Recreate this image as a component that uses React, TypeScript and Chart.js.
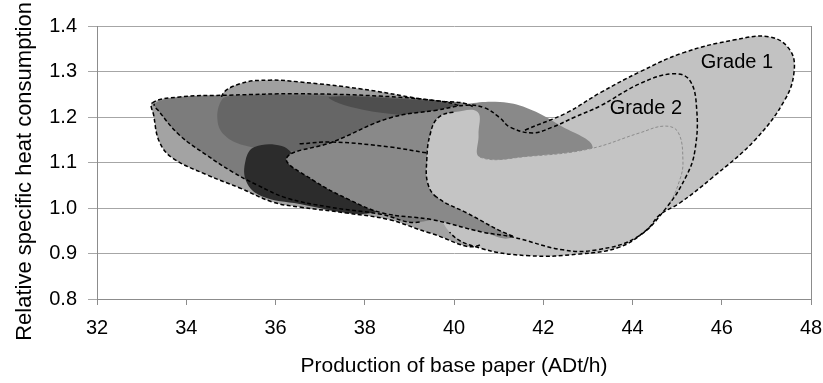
import React, { useEffect, useRef } from 'react';
import { Chart, registerables } from 'chart.js';

Chart.register(...registerables);

// ---------- axis data ----------
const xTickValues = [32, 34, 36, 38, 40, 42, 44, 46, 48];
const yTickValues = [0.8, 0.9, 1.0, 1.1, 1.2, 1.3, 1.4];
const xTitle = 'Production of base paper (ADt/h)';
const yTitle = 'Relative specific heat consumption';

// ---------- labels ----------
const gradeLabels = ['Grade 1', 'Grade 2'];
const gradeLabelX = [46.34, 44.3];
const gradeLabelY = [1.319, 1.218];

// ---------- operating regions (outline points, data units) ----------
const bumpX = [34.79, 35.2, 35.87, 36.54, 37.89, 39.23, 40.13, 40.35, 39.23, 36.54, 35.04];
const bumpY = [1.244, 1.273, 1.281, 1.277, 1.262, 1.24, 1.224, 1.193, 1.171, 1.171, 1.193];

const outerLensX = [33.24, 33.85, 34.97, 36.54, 38.33, 39.68, 40.46, 40.91, 40.8, 40.58, 39.46, 38.56, 37.59, 36.54, 35.94, 35.2, 34.46, 33.69, 33.4, 33.27];
const outerLensY = [1.231, 1.244, 1.248, 1.251, 1.246, 1.235, 1.22, 1.149, 1.018, 0.919, 0.945, 0.974, 0.989, 1.002, 1.013, 1.044, 1.073, 1.11, 1.145, 1.204];

const innerLensX = [33.29, 33.85, 34.97, 36.54, 38.33, 39.68, 40.46, 40.8, 40.35, 39.23, 38.33, 37.21, 36.25, 35.58, 35.04, 34.46, 33.85, 33.4];
const innerLensY = [1.229, 1.244, 1.248, 1.251, 1.246, 1.235, 1.22, 1.149, 1.018, 0.969, 0.987, 1.002, 1.022, 1.051, 1.079, 1.116, 1.16, 1.211];

const darkCoreX = [34.7, 34.79, 35.02, 36.54, 38.33, 39.68, 40.46, 40.13, 39.23, 38.33, 37.21, 36.09, 35.29, 34.86];
const darkCoreY = [1.193, 1.237, 1.246, 1.248, 1.244, 1.233, 1.215, 1.16, 1.138, 1.127, 1.121, 1.127, 1.138, 1.16];

const darkBandX = [37.21, 38.78, 39.9, 40.46, 39.68, 38.56, 37.55];
const darkBandY = [1.244, 1.24, 1.229, 1.211, 1.198, 1.207, 1.226];

const blackWedgeX = [35.53, 36.14, 36.54, 37.44, 38.33, 37.89, 36.54, 35.69, 35.35, 35.33];
const blackWedgeY = [1.134, 1.136, 1.105, 1.048, 1.0, 0.987, 1.009, 1.026, 1.057, 1.105];

const grade1X = [40.35, 40.91, 41.59, 42.52, 43.27, 44.16, 45.13, 46.26, 47.08, 47.53, 47.62, 47.41, 46.74, 45.78, 45.06, 44.61, 44.32, 43.71, 42.82, 41.7, 40.58, 39.9, 39.68];
const grade1Y = [1.094, 1.138, 1.171, 1.209, 1.253, 1.299, 1.341, 1.369, 1.376, 1.347, 1.299, 1.237, 1.149, 1.066, 1.011, 0.985, 0.952, 0.914, 0.899, 0.895, 0.912, 0.947, 1.018];

const midWedgeX = [36.25, 37.28, 38.56, 39.61, 40.29, 41.03, 41.63, 42.37, 43.11, 42.37, 41.32, 40.64, 39.52, 38.4, 37.66, 36.83];
const midWedgeY = [1.11, 1.145, 1.198, 1.215, 1.229, 1.233, 1.22, 1.182, 1.132, 1.073, 0.938, 0.947, 0.974, 0.989, 1.018, 1.062];

const lightX = [39.61, 39.41, 39.39, 39.46, 39.64, 40.02, 40.53, 40.55, 40.58, 41.7, 43.04, 44.16, 44.72, 45.02, 45.13, 45.06, 44.77, 44.1, 43.2, 42.44, 41.32, 40.29];
const lightY = [1.024, 1.055, 1.105, 1.16, 1.198, 1.211, 1.211, 1.16, 1.112, 1.114, 1.13, 1.165, 1.18, 1.167, 1.105, 1.062, 1.002, 0.936, 0.908, 0.908, 0.938, 0.989];

const grade2X = [36.25, 37.28, 38.56, 39.61, 40.29, 40.69, 41.03, 41.25, 41.76, 42.21, 42.71, 43.27, 44.16, 44.9, 45.28, 45.44, 45.4, 45.22, 44.77, 44.1, 43.2, 42.44, 41.32, 40.64, 39.52, 38.4, 37.66, 36.83];
const grade2Y = [1.11, 1.145, 1.198, 1.215, 1.226, 1.22, 1.198, 1.178, 1.165, 1.178, 1.2, 1.224, 1.273, 1.295, 1.281, 1.215, 1.127, 1.073, 1.002, 0.936, 0.908, 0.908, 0.936, 0.947, 0.974, 0.989, 1.018, 1.062];

const splitLineX = [36.54, 37.28, 38.56, 39.39];
const splitLineY = [1.141, 1.145, 1.134, 1.121];

// ---------- styling helpers ----------
const FONT = '"Liberation Sans", Arial, Helvetica, sans-serif';
const CLEAR = 'rgba(0,0,0,0)';
const DASH = [4, 2.5];
const TENSION = 0.4;

function pts(xs: number[], ys: number[]) {
  return xs.map((x, i) => ({ x, y: ys[i] }));
}

function fillSet(xs: number[], ys: number[], color: string, order: number) {
  return {
    type: 'line',
    data: pts(xs, ys),
    closedShape: true,
    fill: 'shape',
    backgroundColor: color,
    borderColor: CLEAR,
    borderWidth: 0,
    pointRadius: 0,
    pointHitRadius: 0,
    tension: TENSION,
    order,
  };
}

// Outline of a closed region: the point list is wrapped (last point in front,
// first two points at the end) so the smooth curve matches the closed fill;
// the two helper end segments are hidden.
function strokeSet(
  xs: number[],
  ys: number[],
  ranges: [number, number][],
  color: string,
  width: number,
  dash: number[],
  closed: boolean,
  order: number
) {
  const base = pts(xs, ys);
  const n = base.length;
  const data = closed ? [base[n - 1], ...base, base[0], base[1]] : base;
  const shift = closed ? 1 : 0;
  const lastSeg = closed ? n : n - 2;
  const visible = (i: number) => {
    const k = i - shift;
    if (k < 0 || k > lastSeg) return false;
    return ranges.some(([a, b]) => k >= a && k <= b);
  };
  return {
    type: 'line',
    data,
    fill: false,
    borderColor: color,
    borderWidth: width,
    borderDash: dash,
    pointRadius: 0,
    pointHitRadius: 0,
    tension: TENSION,
    order,
    segment: {
      borderColor: (ctx: any) => (visible(ctx.p0DataIndex) ? color : CLEAR),
    },
  };
}

// closes the smooth curve of a filled dataset into a loop
const loopPlugin = {
  id: 'closedLoop',
  afterDatasetUpdate(chart: any, args: any) {
    const ds = chart.data.datasets[args.index];
    if (!ds || !ds.closedShape) return;
    const line = args.meta.dataset;
    if (!line) return;
    line._loop = true;
    line._fullLoop = true;
    delete line._segments;
    line._path = undefined;
    line._pointsUpdated = false;
  },
};

const labelPlugin = {
  id: 'gradeLabels',
  afterDatasetsDraw(chart: any) {
    const { ctx, scales } = chart;
    ctx.save();
    ctx.font = `20px ${FONT}`;
    ctx.fillStyle = '#000';
    ctx.textAlign = 'center';
    ctx.textBaseline = 'middle';
    gradeLabels.forEach((t, i) => {
      ctx.fillText(t, scales.x.getPixelForValue(gradeLabelX[i]), scales.y.getPixelForValue(gradeLabelY[i]));
    });
    ctx.restore();
  },
};

const yTitlePlugin = {
  id: 'yTitle',
  afterDraw(chart: any) {
    const { ctx, chartArea } = chart;
    ctx.save();
    ctx.translate(25, (chartArea.top + chartArea.bottom) / 2 + 9);
    ctx.rotate(-Math.PI / 2);
    ctx.font = `22px ${FONT}`;
    ctx.fillStyle = '#000';
    ctx.textAlign = 'center';
    ctx.textBaseline = 'middle';
    ctx.fillText(yTitle, 0, 0);
    ctx.restore();
  },
};

export default function App() {
  const ref = useRef<HTMLCanvasElement | null>(null);

  useEffect(() => {
    if (!ref.current) return;

    const datasets: any[] = [
      // fills, back to front (higher order = further back)
      fillSet(bumpX, bumpY, '#a0a0a0', 100),
      fillSet(outerLensX, outerLensY, '#a3a3a3', 99),
      fillSet(innerLensX, innerLensY, '#7c7c7c', 98),
      fillSet(darkCoreX, darkCoreY, '#666666', 97),
      fillSet(darkBandX, darkBandY, '#4e4e4e', 96),
      fillSet(blackWedgeX, blackWedgeY, '#2c2c2c', 95),
      fillSet(grade1X, grade1Y, '#c2c2c2', 94),
      fillSet(midWedgeX, midWedgeY, '#898989', 93),
      fillSet(lightX, lightY, '#c4c4c4', 92),
      // dashed outlines on top
      strokeSet(bumpX, bumpY, [[0, 5]], '#000', 1.5, DASH, true, 20),
      strokeSet(outerLensX, outerLensY, [[0, 5], [9, 19]], '#000', 1.5, DASH, true, 19),
      strokeSet(innerLensX, innerLensY, [[9, 17]], '#000', 1.5, DASH, true, 18),
      strokeSet(grade1X, grade1Y, [[2, 20]], '#000', 1.5, DASH, true, 17),
      strokeSet(lightX, lightY, [[8, 15]], '#8c8c8c', 1, [3, 2], true, 16),
      strokeSet(lightX, lightY, [[0, 4], [20, 21]], '#000', 1.5, DASH, true, 15),
      strokeSet(grade2X, grade2Y, [[0, 27]], '#000', 1.5, DASH, true, 14),
      strokeSet(splitLineX, splitLineY, [[0, 3]], '#000', 1.5, DASH, false, 13),
    ];

    const chart = new Chart(ref.current, {
      type: 'line',
      data: { datasets },
      options: {
        responsive: false,
        animation: false,
        events: [],
        layout: { padding: { top: 26, right: 0, left: 0, bottom: 0 } },
        plugins: {
          legend: { display: false },
          tooltip: { enabled: false },
        },
        scales: {
          x: {
            type: 'linear',
            min: 32,
            max: 48,
            afterBuildTicks: (s: any) => {
              s.ticks = xTickValues.map((v) => ({ value: v }));
            },
            ticks: {
              font: { family: FONT, size: 20 },
              color: '#000',
              padding: 11,
              maxRotation: 0,
              autoSkip: false,
            },
            grid: {
              color: (c: any) => (c.tick && c.tick.value === 48 ? '#8c8c8c' : CLEAR),
              tickColor: '#8c8c8c',
              tickLength: 6,
            },
            border: { color: '#8c8c8c' },
            title: {
              display: true,
              text: xTitle,
              font: { family: FONT, size: 21 },
              color: '#000',
              padding: { top: 0, bottom: 4 },
            },
            afterFit: (s: any) => {
              s.height = 84;
              s.paddingLeft = 0;
              s.paddingRight = 12;
            },
          },
          y: {
            type: 'linear',
            min: 0.8,
            max: 1.4,
            afterBuildTicks: (s: any) => {
              s.ticks = yTickValues.map((v) => ({ value: v }));
            },
            ticks: {
              font: { family: FONT, size: 20 },
              color: '#000',
              padding: 11,
              callback: (v: any) => Number(v).toFixed(1),
            },
            grid: { color: '#a6a6a6', tickColor: '#a6a6a6', tickLength: 9 },
            border: { color: '#8c8c8c' },
            afterFit: (s: any) => {
              s.width = 97;
            },
          },
        },
      } as any,
      plugins: [loopPlugin, labelPlugin, yTitlePlugin],
    });

    return () => chart.destroy();
  }, []);

  return (
    <div style={{ position: 'fixed', left: 0, top: 0, width: 823, height: 383, background: '#fff' }}>
      <canvas ref={ref} width={823} height={383} />
    </div>
  );
}
